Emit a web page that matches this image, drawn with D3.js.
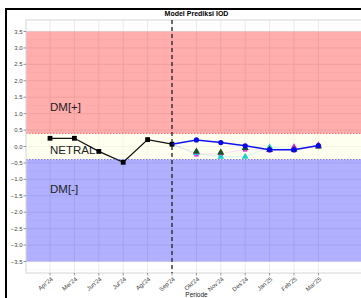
<!DOCTYPE html>
<html>
<head>
<meta charset="utf-8">
<script src="https://cdn.jsdelivr.net/npm/d3@7"></script>
<style>
  body { margin: 0; background: #fff; }
  svg { display: block; font-family: "Liberation Sans", Arial, sans-serif; }
</style>
</head>
<body>
<svg width="361" height="298"></svg>
<script>
// Data
var months = ["Apr'24", "Mei'24", "Jun'24", "Jul'24", "Agt'24", "Sep'24",
              "Okt'24", "Nov'24", "Des'24", "Jan'25", "Feb'25", "Mar'25"];
var obsMonths = ["Apr'24", "Mei'24", "Jun'24", "Jul'24", "Agt'24", "Sep'24"];
var obsValues = [0.25, 0.25, -0.15, -0.48, 0.21, 0.07];
var fcMonths = ["Sep'24", "Okt'24", "Nov'24", "Des'24", "Jan'25", "Feb'25", "Mar'25"];
var fcValues = [0.07, 0.20, 0.12, 0.02, -0.10, -0.10, 0.03];
var ensMonths = ["Okt'24", "Nov'24", "Des'24", "Jan'25", "Feb'25", "Mar'25"];
var ensSquare = [-0.24, -0.22, -0.09, -0.11, -0.11, 0.00];
var ensCyan = [-0.20, -0.31, -0.31, -0.02, -0.08, 0.02];
var ensMagenta = [-0.16, -0.19, -0.05, -0.09, -0.02, 0.04];
var ensGreen = [-0.15, -0.18, -0.05, -0.10, -0.10, 0.00];
var yTicks = [3.5, 3.0, 2.5, 2.0, 1.5, 1.0, 0.5, 0.0, -0.5, -1.0, -1.5, -2.0, -2.5, -3.0, -3.5];
var threshold = 0.4;
var splitMonth = "Sep'24";

var svg = d3.select("svg");
var panel = { left: 26, right: 367, top: 20, bottom: 273 };

var x = d3.scalePoint().domain(months).range([50, 318.4]);
var y = d3.scaleLinear().domain([-3.85, 3.85]).range([panel.bottom, panel.top]);

// frame of the screenshot
svg.append("line").attr("x1", 5).attr("x2", 361).attr("y1", 9).attr("y2", 9)
  .attr("stroke", "#000").attr("stroke-width", 2);
svg.append("line").attr("x1", 6).attr("x2", 6).attr("y1", 8).attr("y2", 298)
  .attr("stroke", "#000").attr("stroke-width", 2);

svg.append("text")
  .attr("x", (panel.left + panel.right) / 2).attr("y", 16)
  .attr("text-anchor", "middle").attr("font-size", 7).attr("font-weight", "bold")
  .attr("fill", "#000").text("Model Prediksi IOD");

var g = svg.append("g");

// gridlines
d3.range(-3.75, 3.8, 0.5).forEach(function(v) {
  g.append("line").attr("x1", panel.left).attr("x2", panel.right)
    .attr("y1", y(v)).attr("y2", y(v)).attr("stroke", "#f2f2f2").attr("stroke-width", 0.5);
});
yTicks.forEach(function(v) {
  g.append("line").attr("x1", panel.left).attr("x2", panel.right)
    .attr("y1", y(v)).attr("y2", y(v)).attr("stroke", "#e6e6e6").attr("stroke-width", 0.8);
});
months.forEach(function(m) {
  g.append("line").attr("x1", x(m)).attr("x2", x(m))
    .attr("y1", panel.top).attr("y2", panel.bottom).attr("stroke", "#e6e6e6").attr("stroke-width", 0.8);
});

// zones
g.append("rect").attr("x", panel.left).attr("width", panel.right - panel.left)
  .attr("y", y(3.5)).attr("height", y(threshold) - y(3.5))
  .attr("fill", "#ff0000").attr("fill-opacity", 0.32);
g.append("rect").attr("x", panel.left).attr("width", panel.right - panel.left)
  .attr("y", y(threshold)).attr("height", y(-threshold) - y(threshold))
  .attr("fill", "#ffffe0").attr("fill-opacity", 0.5);
g.append("rect").attr("x", panel.left).attr("width", panel.right - panel.left)
  .attr("y", y(-threshold)).attr("height", y(-3.5) - y(-threshold))
  .attr("fill", "#0000ff").attr("fill-opacity", 0.31);

g.append("line").attr("x1", panel.left).attr("x2", panel.right)
  .attr("y1", y(threshold)).attr("y2", y(threshold))
  .attr("stroke", "#ff5a5a").attr("stroke-width", 1).attr("stroke-dasharray", "1.5,1.5");
g.append("line").attr("x1", panel.left).attr("x2", panel.right)
  .attr("y1", y(-threshold)).attr("y2", y(-threshold))
  .attr("stroke", "#6a6aff").attr("stroke-width", 1).attr("stroke-dasharray", "1.5,1.5");

// panel border
g.append("rect").attr("x", panel.left).attr("y", panel.top)
  .attr("width", panel.right - panel.left).attr("height", panel.bottom - panel.top)
  .attr("fill", "none").attr("stroke", "#d6d6d6").attr("stroke-width", 1);

// zone labels
[["DM[+]", 1.2], ["NETRAL", -0.1], ["DM[-]", -1.3]].forEach(function(t) {
  g.append("text").attr("x", 50).attr("y", y(t[1])).attr("dy", "0.36em")
    .attr("font-size", 11.5).attr("fill", "#222").text(t[0]);
});

// axes
yTicks.forEach(function(v) {
  g.append("line").attr("x1", panel.left - 2.5).attr("x2", panel.left)
    .attr("y1", y(v)).attr("y2", y(v)).attr("stroke", "#555").attr("stroke-width", 0.6);
  g.append("text").attr("x", panel.left - 3.5).attr("y", y(v)).attr("dy", "0.35em")
    .attr("text-anchor", "end").attr("font-size", 6).attr("fill", "#444")
    .text(d3.format(".1f")(v));
});
months.forEach(function(m) {
  g.append("line").attr("x1", x(m)).attr("x2", x(m))
    .attr("y1", panel.bottom).attr("y2", panel.bottom + 2.5).attr("stroke", "#555").attr("stroke-width", 0.6);
  g.append("text")
    .attr("transform", "translate(" + (x(m) + 1) + "," + (panel.bottom + 4) + ") rotate(-40)")
    .attr("text-anchor", "end").attr("dy", "0.6em").attr("font-size", 6).attr("fill", "#444")
    .text(m);
});
g.append("text").attr("x", (panel.left + panel.right) / 2).attr("y", 297)
  .attr("text-anchor", "middle").attr("font-size", 6.5).attr("fill", "#222").text("Periode");

// split line
g.append("line").attr("x1", x(splitMonth)).attr("x2", x(splitMonth))
  .attr("y1", panel.top).attr("y2", panel.bottom)
  .attr("stroke", "#222").attr("stroke-width", 1.3).attr("stroke-dasharray", "4,3");

var line = d3.line().x(function(d) { return x(d[0]); }).y(function(d) { return y(d[1]); });
function pairs(ms, vs) { return ms.map(function(m, i) { return [m, vs[i]]; }); }
var triangle = d3.symbol().type(d3.symbolTriangle).size(20);

// ensemble members
var sqData = [[splitMonth, fcValues[0]]].concat(pairs(ensMonths, ensSquare));
var cyData = [[splitMonth, fcValues[0]]].concat(pairs(ensMonths, ensCyan));
g.append("path").attr("d", line(sqData)).attr("fill", "none")
  .attr("stroke", "#f080f0").attr("stroke-opacity", 0.35).attr("stroke-width", 0.7);
g.append("path").attr("d", line(cyData)).attr("fill", "none")
  .attr("stroke", "#40e0e0").attr("stroke-opacity", 0.35).attr("stroke-width", 0.7);

g.selectAll(".sq").data(pairs(ensMonths, ensSquare)).enter().append("rect")
  .attr("x", function(d) { return x(d[0]) - 2.2; }).attr("y", function(d) { return y(d[1]) - 2.2; })
  .attr("width", 4.4).attr("height", 4.4).attr("fill", "#e830e0");
g.selectAll(".cy").data(pairs(ensMonths, ensCyan)).enter().append("path")
  .attr("d", triangle).attr("fill", "#18d0d0")
  .attr("transform", function(d) { return "translate(" + x(d[0]) + "," + y(d[1]) + ")"; });
g.selectAll(".mg").data(pairs(ensMonths, ensMagenta)).enter().append("path")
  .attr("d", triangle).attr("fill", "#d020c8")
  .attr("transform", function(d) { return "translate(" + x(d[0]) + "," + y(d[1]) + ")"; });
g.selectAll(".gr").data(pairs(ensMonths, ensGreen)).enter().append("path")
  .attr("d", triangle).attr("fill", "#0e5a1e")
  .attr("transform", function(d) { return "translate(" + x(d[0]) + "," + y(d[1]) + ")"; });

// observed
var obs = pairs(obsMonths, obsValues);
g.append("path").attr("d", line(obs)).attr("fill", "none")
  .attr("stroke", "#111").attr("stroke-width", 1.3);
g.selectAll(".obs").data(obs).enter().append("rect")
  .attr("x", function(d) { return x(d[0]) - 2.4; }).attr("y", function(d) { return y(d[1]) - 2.4; })
  .attr("width", 4.8).attr("height", 4.8).attr("fill", "#000");

// forecast
var fc = pairs(fcMonths, fcValues);
g.append("path").attr("d", line(fc)).attr("fill", "none")
  .attr("stroke", "#1414f0").attr("stroke-width", 1.5);
g.selectAll(".fc").data(fc.slice(1)).enter().append("circle")
  .attr("cx", function(d) { return x(d[0]); }).attr("cy", function(d) { return y(d[1]); })
  .attr("r", 2.6).attr("fill", "#0808e8");
</script>
</body>
</html>
